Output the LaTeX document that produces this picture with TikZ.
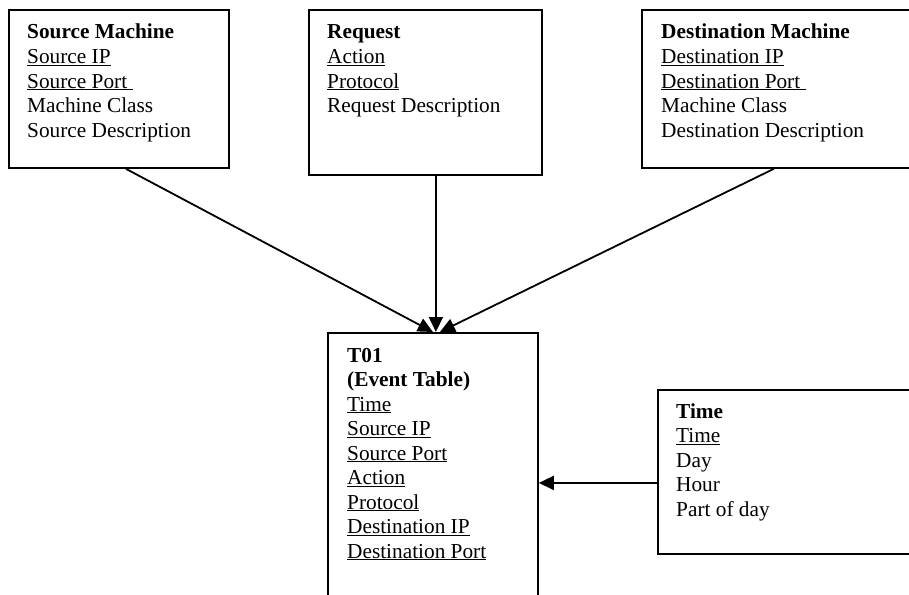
\documentclass[tikz,border=0pt]{standalone}
\usepackage{fontspec}
\setmainfont{Liberation Serif}
\usetikzlibrary{arrows.meta,calc}

\newcommand{\pk}[1]{\underline{#1}}
\newcommand{\fields}[1]{\begin{tabular}[t]{@{}l@{}}#1\end{tabular}}

\tikzset{
  entity/.style={draw, line width=1.8pt, anchor=north west, inner sep=0pt},
  attrs/.style={anchor=base west, inner sep=0pt, font=\fontsize{21.3}{24.5}\selectfont},
  link/.style={line width=1.8pt, -{Triangle[length=15pt,width=14pt]}}
}

\begin{document}
\begin{tikzpicture}[x=1pt,y=-1pt]
  \path[use as bounding box, clip] (0,0) rectangle (909,594);

  % dimension tables
  \node[entity, minimum width=220pt, minimum height=158pt] (srcm) at (8,9) {};
  \node[attrs] at ($(srcm.north west)+(19,30)$) {\fields{%
    \textbf{Source Machine}\\ \pk{Source IP}\\ \pk{Source Port\ }\\
    Machine Class\\ Source Description}};

  \node[entity, minimum width=233pt, minimum height=165pt] (req) at (308,9) {};
  \node[attrs] at ($(req.north west)+(19,30)$) {\fields{%
    \textbf{Request}\\ \pk{Action}\\ \pk{Protocol}\\ Request Description}};

  \node[entity, minimum width=275pt, minimum height=158pt] (dstm) at (641,9) {};
  \node[attrs] at ($(dstm.north west)+(20,30)$) {\fields{%
    \textbf{Destination Machine}\\ \pk{Destination IP}\\ \pk{Destination Port\ }\\
    Machine Class\\ Destination Description}};

  \node[entity, minimum width=270pt, minimum height=164pt] (time) at (657,389) {};
  \node[attrs] at ($(time.north west)+(19,29)$) {\fields{%
    \textbf{Time}\\ \pk{Time}\\ Day\\ Hour\\ Part of day}};

  % fact table
  \node[entity, minimum width=210pt, minimum height=300pt] (t01) at (327,332) {};
  \node[attrs] at ($(t01.north west)+(20,30)$) {\fields{%
    \textbf{T01}\\ \textbf{(Event Table)}\\ \pk{Time}\\ \pk{Source IP}\\
    \pk{Source Port}\\ \pk{Action}\\ \pk{Protocol}\\ \pk{Destination IP}\\
    \pk{Destination Port}}};

  % links into the fact table
  \draw[link] ([xshift=7pt]srcm.south) -- (t01.north);
  \draw[link] ([xshift=10.5pt]req.south) -- ([xshift=3pt]t01.north);
  \draw[link] ([xshift=-5.5pt]dstm.south) -- ([xshift=7pt]t01.north);
  \coordinate (tlink) at ([yshift=-11pt]time.west);
  \draw[link] (tlink) -- (tlink -| t01.east);
\end{tikzpicture}
\end{document}
